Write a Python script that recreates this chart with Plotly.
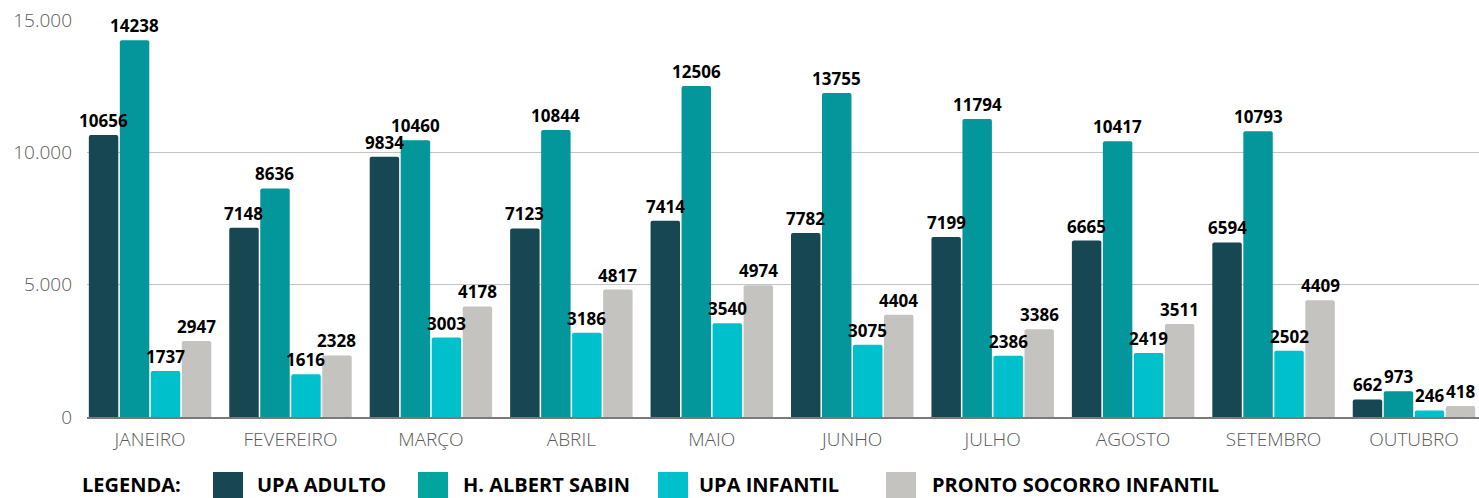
import plotly.graph_objects as go

# ---------------- data ----------------
categories = ["JANEIRO", "FEVEREIRO", "MARÇO", "ABRIL", "MAIO",
              "JUNHO", "JULHO", "AGOSTO", "SETEMBRO", "OUTUBRO"]

series_names = ["UPA ADULTO", "H. ALBERT SABIN", "UPA INFANTIL", "PRONTO SOCORRO INFANTIL"]

# bar heights as drawn
upa_adulto = [10656, 7148, 9834, 7123, 7414, 6950, 6800, 6665, 6594, 662]
albert_sabin = [14238, 8636, 10460, 10844, 12506, 12240, 11260, 10417, 10793, 973]
upa_infantil = [1737, 1616, 3003, 3186, 3540, 2730, 2316, 2419, 2502, 246]
pronto_socorro = [2870, 2328, 4178, 4817, 4974, 3865, 3320, 3511, 4409, 418]

# data-label texts as printed
upa_adulto_lbl = ["10656", "7148", "9834", "7123", "7414", "7782", "7199", "6665", "6594", "662"]
albert_sabin_lbl = ["14238", "8636", "10460", "10844", "12506", "13755", "11794", "10417", "10793", "973"]
upa_infantil_lbl = ["1737", "1616", "3003", "3186", "3540", "3075", "2386", "2419", "2502", "246"]
pronto_socorro_lbl = ["2947", "2328", "4178", "4817", "4974", "4404", "3386", "3511", "4409", "418"]

y_ticks = [0, 5000, 10000, 15000]

colors = ["#174753", "#03979c", "#00c1cb", "#c5c3bf"]
legend_colors = ["#174753", "#00a69e", "#00c1cb", "#c5c3bf"]

values = [upa_adulto, albert_sabin, upa_infantil, pronto_socorro]
labels = [upa_adulto_lbl, albert_sabin_lbl, upa_infantil_lbl, pronto_socorro_lbl]

# ---------------- figure ----------------
W, H = 1479, 498
ML, MR, MT, MB = 87, 0, 20, 81
X_RANGE = [-0.449, 9.463]
BARGAP = 0.117

fig = go.Figure()
for name, vals, col in zip(series_names, values, colors):
    fig.add_trace(go.Bar(
        x=categories, y=vals, name=name,
        marker=dict(color=col, line=dict(width=0), cornerradius=2),
        showlegend=False,
    ))

fig.update_layout(
    width=W, height=H,
    margin=dict(l=ML, r=MR, t=MT, b=MB, pad=0),
    paper_bgcolor="white", plot_bgcolor="white",
    barmode="group", bargap=BARGAP, bargroupgap=0.05,
    separators=",.",
    font=dict(family="Open Sans", color="#595959"),
)

fig.update_xaxes(
    range=X_RANGE,
    showline=True, linecolor="#7a7a7a", linewidth=1.5,
    showgrid=False, ticks="",
    tickfont=dict(family="Open Sans", size=19, color="#595959", weight=300),
    ticklabelstandoff=4,
)
fig.update_yaxes(
    range=[0, 15000], tickvals=y_ticks, tickformat=",d",
    showgrid=True, gridcolor="#c4c4c4", gridwidth=1,
    zeroline=False, showline=False, ticks="",
    tickfont=dict(family="Open Sans", size=19, color="#595959", weight=300),
    ticklabelstandoff=14,
)

plot_w = W - ML - MR
plot_h = H - MT - MB

# ---------------- data labels (drawn above all bars) ----------------
band_px = plot_w / (X_RANGE[1] - X_RANGE[0])
slot_px = band_px * (1 - BARGAP) / len(series_names)
for i, (vals, lbl) in enumerate(zip(values, labels)):
    shift = (i - (len(series_names) - 1) / 2) * slot_px
    for cat, v, t in zip(categories, vals, lbl):
        fig.add_annotation(
            x=cat, y=v, text=t, xref="x", yref="y",
            xshift=shift, yshift=1, xanchor="center", yanchor="bottom",
            showarrow=False,
            font=dict(family="Open Sans", size=17, color="#000000", weight="bold"),
        )

# ---------------- custom legend ----------------


def px_x(x):
    return (x - ML) / plot_w


def px_y(y):
    return (H - MB - y) / plot_h


fig.add_annotation(
    text="LEGENDA:", xref="paper", yref="paper",
    x=px_x(80), y=px_y(484), xanchor="left", yanchor="middle",
    showarrow=False,
    font=dict(family="Open Sans", size=20, color="#000000", weight="bold"),
)

square_left = [213, 418, 658, 886]
text_left = [255, 461, 697, 930]
for name, col, sx, tx in zip(series_names, legend_colors, square_left, text_left):
    fig.add_shape(
        type="rect", xref="paper", yref="paper",
        x0=px_x(sx), x1=px_x(sx + 30), y0=px_y(472), y1=px_y(505),
        fillcolor=col, line=dict(width=0), layer="above",
    )
    fig.add_annotation(
        text=name, xref="paper", yref="paper",
        x=px_x(tx), y=px_y(484), xanchor="left", yanchor="middle",
        showarrow=False,
        font=dict(family="Open Sans", size=20, color="#000000", weight="bold"),
    )

fig.write_html("out.html", config={"displayModeBar": False},
               post_script="document.body.style.margin='0';")
